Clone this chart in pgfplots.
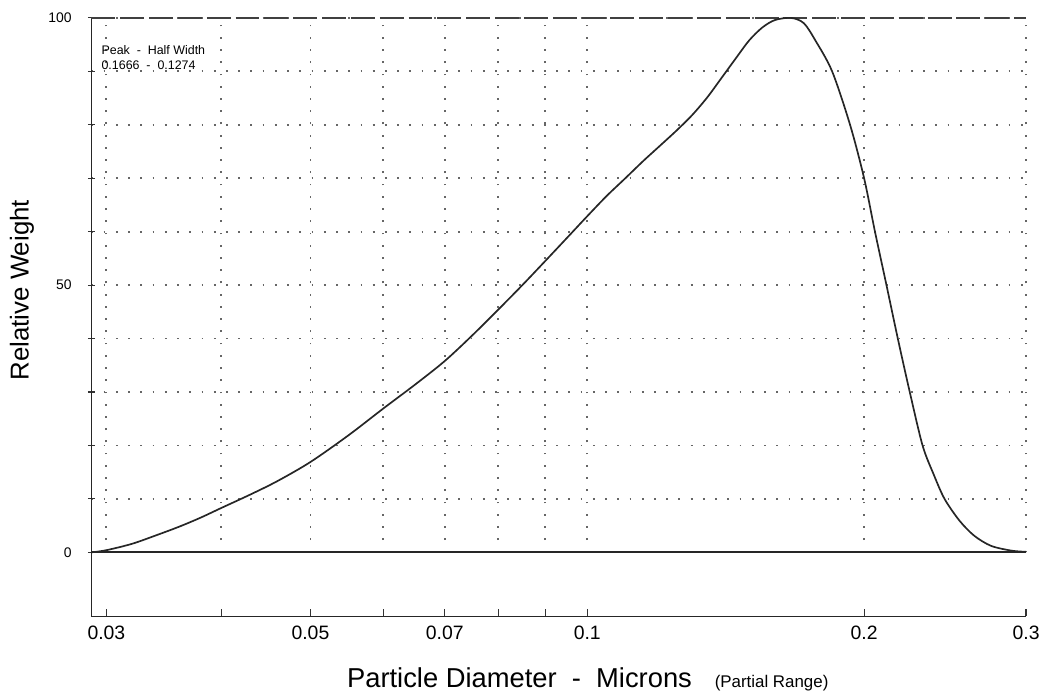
\documentclass[border=0pt]{standalone}
\usepackage{fontspec}
\setmainfont{Liberation Sans}
\usepackage{pgfplots}
\usepackage{pgfplotstable}
\pgfplotsset{compat=1.18}
\pgfplotstableread{
x y
0.0289 0.0
0.0300 0.4
0.0320 1.6
0.0340 3.2
0.0360 4.8
0.0380 6.5
0.0400 8.3
0.0430 10.8
0.0460 13.3
0.0500 16.9
0.0550 21.9
0.0600 26.9
0.0650 31.4
0.0700 35.8
0.0750 40.6
0.0800 45.4
0.0850 50.0
0.0900 54.5
0.0950 58.8
0.1000 62.9
0.1050 66.7
0.1100 70.0
0.1150 73.2
0.1200 76.1
0.1250 78.9
0.1300 81.8
0.1350 85.1
0.1400 88.8
0.1450 92.4
0.1500 95.8
0.1550 98.2
0.1600 99.6
0.1666 100.0
0.1720 99.0
0.1770 95.8
0.1846 90.0
0.1931 80.0
0.2000 70.0
0.2055 60.0
0.2115 50.0
0.2176 40.0
0.2242 30.0
0.2315 20.0
0.2380 14.6
0.2446 10.0
0.2540 5.9
0.2635 3.1
0.2749 1.2
0.2896 0.3
0.3000 0.1
}\curve
\tikzset{gridline/.style={black!60, line width=1.8pt, dash pattern=on 1.8pt off 10.5pt}}
\begin{document}
\begin{tikzpicture}
\path[use as bounding box] (-92pt,-77pt) rectangle (957pt,620pt);
\begin{axis}[
  at={(0,0)}, anchor=south west,
  scale only axis, width=940pt, height=602pt,
  xmode=log, xmin=0.0289, xmax=0.3, ymin=-12, ymax=100,
  axis x line*=bottom, axis y line*=left,
  axis line style={-, black!85, line width=1.8pt},
  xtick={0.03,0.05,0.07,0.1,0.2,0.3},
  xticklabels={0.03,0.05,0.07,0.1,0.2,0.3},
  minor xtick={0.04,0.06,0.08,0.09},
  ytick={0,50,100}, yticklabels={0,50,100},
  minor ytick={10,20,30,40,60,70,80,90},
  xtick align=inside, ytick align=center,
  major tick length=7pt, minor tick length=7pt,
  tick style={black!80, line width=1.2pt},
  ymajorgrids, yminorgrids,
  major grid style={gridline}, minor grid style={gridline},
  xticklabel style={font=\fontsize{19.5}{19.5}\selectfont, yshift=-6pt},
  yticklabel style={font=\fontsize{14}{14}\selectfont, xshift=-13pt},
  xlabel={\fontsize{27.5}{27.5}\selectfont Particle Diameter\ \ -\ \ Microns\ \ \ {\fontsize{17}{17}\selectfont(Partial Range)}},
  xlabel style={at={(axis description cs:0.531,-0.105)}, anchor=center},
  ylabel={\fontsize{26}{26}\selectfont Relative Weight},
  ylabel style={at={(axis description cs:-0.0745,0.545)}, anchor=center, rotate=0},
  clip=false,
]
\pgfplotsinvokeforeach{0.03,0.04,0.05,0.06,0.07,0.08,0.09,0.1,0.2,0.3}{
  \addplot[gridline, forget plot] coordinates {(#1,0) (#1,100)};
}
\addplot[black!85, line width=1.8pt, forget plot] coordinates {(0.0289,0) (0.3,0)};
\addplot[black!75, line width=1.8pt, dash pattern=on 24pt off 5pt, forget plot] coordinates {(0.0289,100) (0.3,100)};
\addplot[black!85, line width=1.7pt, smooth, tension=0.5] table[x=x, y=y] {\curve};
\node[anchor=north west, inner sep=0pt, align=left, font=\fontsize{12.5}{16}\selectfont]
  at (axis description cs:0.0106,0.955) {Peak\ \ -\ \ Half Width\\ 0.1666\ \ -\ \ 0.1274};
\end{axis}
\end{tikzpicture}
\end{document}
